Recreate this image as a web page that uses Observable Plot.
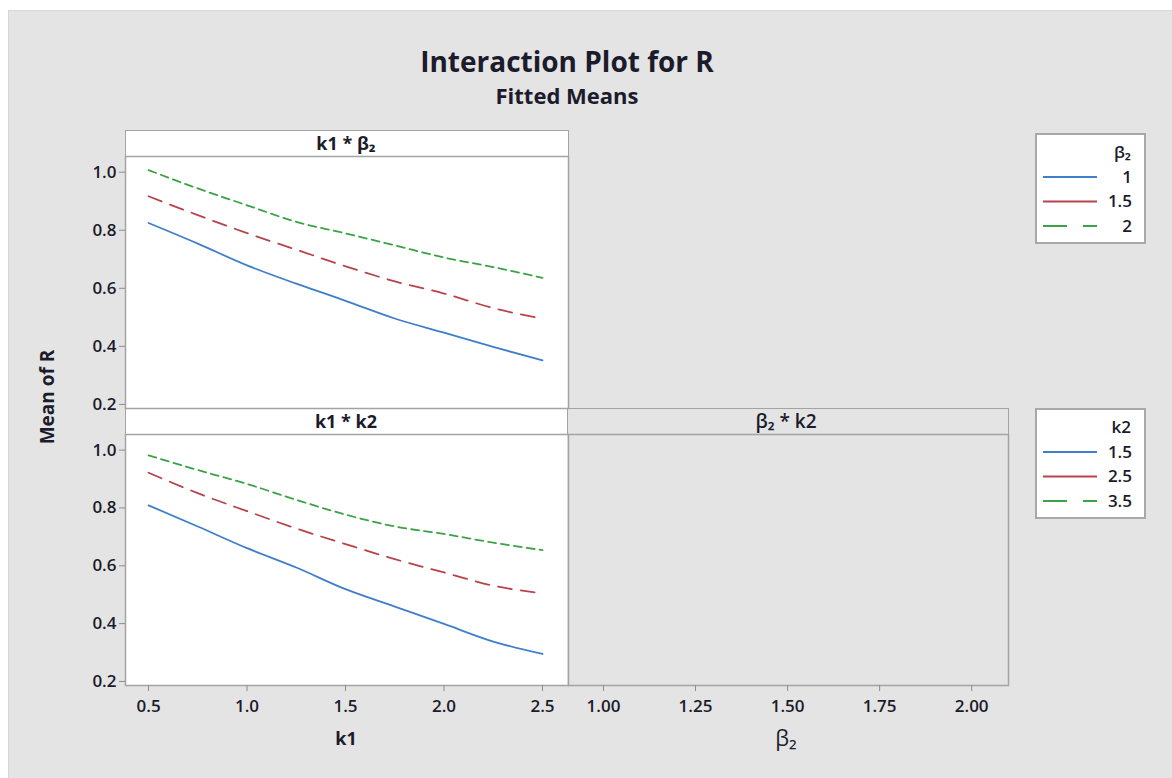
<!DOCTYPE html>
<html>
<head>
<meta charset="utf-8">
<script src="https://cdn.jsdelivr.net/npm/d3@7"></script>
<script src="https://cdn.jsdelivr.net/npm/@observablehq/plot@0.6"></script>
<style>
  html, body { margin: 0; padding: 0; background: #ffffff; }
  #root { position: relative; width: 1172px; height: 778px; overflow: hidden; font-family: "Open Sans", "Noto Sans", sans-serif; color: #1b1b2b; }
  #bg { position: absolute; left: 8px; top: 10px; width: 1164px; height: 768px; background: #e4e4e4; border-left: 1px solid #d6d6d6; border-top: 1px solid #d6d6d6; box-sizing: border-box; }
  .abs { position: absolute; }
  .txt { position: absolute; white-space: nowrap; text-align: center; }
  .hdr { position: absolute; box-sizing: border-box; border: 1.5px solid #a3a3a3; }
  .panel { position: absolute; }
  .panel svg text { font-size: 17px !important; font-weight: 600 !important; font-family: "Open Sans", "Noto Sans", sans-serif !important; fill: #1b1b2b; }
</style>
</head>
<body>
<div id="root">
  <div id="bg"></div>
</div>
<script>
// ---------------- data ----------------
const k1Levels = [0.5, 0.75, 1.0, 1.25, 1.5, 1.75, 2.0, 2.25, 2.5];
// k1 * beta2 interaction (Mean of R)
const beta2Levels = ["1", "1.5", "2"];
const rK1Beta2_1  = [0.825, 0.754, 0.679, 0.616, 0.557, 0.496, 0.447, 0.398, 0.352];
const rK1Beta2_15 = [0.917, 0.852, 0.790, 0.733, 0.676, 0.624, 0.582, 0.532, 0.495];
const rK1Beta2_2  = [1.007, 0.944, 0.886, 0.829, 0.789, 0.748, 0.706, 0.673, 0.636];
// k1 * k2 interaction (Mean of R)
const k2Levels = ["1.5", "2.5", "3.5"];
const rK1K2_15 = [0.809, 0.736, 0.661, 0.594, 0.519, 0.459, 0.399, 0.338, 0.295];
const rK1K2_25 = [0.922, 0.851, 0.789, 0.729, 0.675, 0.623, 0.577, 0.531, 0.505];
const rK1K2_35 = [0.982, 0.931, 0.883, 0.828, 0.777, 0.736, 0.710, 0.680, 0.654];
// tick labels
const yTicks = [0.2, 0.4, 0.6, 0.8, 1.0];
const k1Ticks = [0.5, 1.0, 1.5, 2.0, 2.5];
const beta2Ticks = [1.00, 1.25, 1.50, 1.75, 2.00];

// ---------------- styles ----------------
const colors = ["#3f7fca", "#b8434a", "#3ba246"];
const dashes = [null, "14,9", "8,5"];
const legendDashes = [null, null, "24,16"];
const yDomain = [0.186, 1.054];

const root = document.getElementById("root");

function addText(text, cx, cy, size, weight, opts = {}) {
  const d = document.createElement("div");
  d.className = "txt";
  d.textContent = text;
  d.style.fontSize = size + "px";
  d.style.fontWeight = weight;
  d.style.lineHeight = size + "px";
  if (opts.family) d.style.fontFamily = opts.family;
  d.style.left = cx + "px";
  d.style.top = cy + "px";
  d.style.transform = "translate(-50%,-50%)" + (opts.rotate ? ` rotate(${opts.rotate}deg)` : "");
  if (opts.color) d.style.color = opts.color;
  root.appendChild(d);
  return d;
}
function addBox(cls, x, y, w, h, bg) {
  const d = document.createElement("div");
  d.className = cls;
  d.style.left = x + "px"; d.style.top = y + "px";
  d.style.width = w + "px"; d.style.height = h + "px";
  d.style.background = bg;
  root.appendChild(d);
  return d;
}

function makeSeries(values) {
  return k1Levels.map((k, i) => ({k1: k, r: values[i]}));
}

function panel({x0, y0, w, h, xDomain, xTicks, xFmt, showX, showY, series, bg}) {
  const mL = showY ? 60 : 2, mR = 2, mT = 2, mB = showX ? 44 : 2;
  const marks = [Plot.frame({fill: bg, stroke: null})];
  series.forEach((s, i) => {
    marks.push(Plot.line(makeSeries(s), {x: "k1", y: "r", stroke: colors[i], strokeWidth: 1.8, strokeDasharray: dashes[i], curve: "monotone-x"}));
  });
  marks.push(Plot.frame({stroke: "#a3a3a3", strokeWidth: 1.5}));
  if (showY) marks.push(Plot.axisY(yTicks, {tickFormat: d3.format(".1f"), tickSize: 6, tickPadding: 3, stroke: "#8c8c8c", color: "#1b1b2b", label: null}));
  if (showX) marks.push(Plot.axisX(xTicks, {tickFormat: d3.format(xFmt), tickSize: 6, tickPadding: 8, stroke: "#8c8c8c", color: "#1b1b2b", label: null}));
  const p = Plot.plot({
    width: mL + w + mR,
    height: mT + h + mB,
    marginLeft: mL, marginRight: mR, marginTop: mT, marginBottom: mB,
    x: {domain: xDomain, axis: null},
    y: {domain: yDomain, axis: null},
    style: {background: "transparent", fontFamily: "'Open Sans', 'Noto Sans', sans-serif", fontSize: "17px", fontWeight: 600, color: "#1b1b2b", overflow: "visible"},
    marks
  });
  const wrap = document.createElement("div");
  wrap.className = "panel";
  wrap.style.left = (x0 - mL) + "px";
  wrap.style.top = (y0 - mT) + "px";
  wrap.appendChild(p);
  root.appendChild(wrap);
}

// ---------------- title ----------------
addText("Interaction Plot for R", 567, 61, 28, 700);
addText("Fitted Means", 567, 95, 22, 700);

// ---------------- headers ----------------
addBox("hdr", 125, 130, 444, 28, "#ffffff");
addText("k1 * β₂", 346, 143, 18, 700);
addBox("hdr", 125, 408, 444, 28, "#ffffff");
addText("k1 * k2", 346, 421, 18, 700);
addBox("hdr", 567, 408, 442, 28, "#e4e4e4");
addText("β₂ * k2", 786, 421, 19, 600);

// ---------------- panels ----------------
panel({x0: 125, y0: 156, w: 443, h: 252, xDomain: [0.383, 2.632], xTicks: k1Ticks, xFmt: ".1f", showX: false, showY: true,
       series: [rK1Beta2_1, rK1Beta2_15, rK1Beta2_2], bg: "#ffffff"});
panel({x0: 125, y0: 434, w: 443, h: 251, xDomain: [0.383, 2.632], xTicks: k1Ticks, xFmt: ".1f", showX: true, showY: true,
       series: [rK1K2_15, rK1K2_25, rK1K2_35], bg: "#ffffff"});
panel({x0: 568, y0: 434, w: 440, h: 251, xDomain: [0.905, 2.1], xTicks: beta2Ticks, xFmt: ".2f", showX: true, showY: false,
       series: [], bg: "#e4e4e4"});

// ---------------- axis titles ----------------
addText("Mean of R", 47, 397, 19, 700, {rotate: -90});
addText("k1", 346, 738, 18, 700);
addText("β₂", 786, 737, 22, 400);

// ---------------- legends ----------------
function legend(x, y, title, labels) {
  const w = 111, h = 111;
  const svg = d3.select(root).append("svg")
    .attr("class", "abs").attr("width", w).attr("height", h)
    .style("left", x + "px").style("top", y + "px");
  svg.append("rect").attr("x", 1).attr("y", 1).attr("width", w - 2).attr("height", h - 2)
    .attr("fill", "#fff").attr("stroke", "#a8a8a8").attr("stroke-width", 2);
  const g = svg.append("g").attr("font-family", "'Open Sans', 'Noto Sans', sans-serif").attr("font-weight", 600).attr("font-size", 17).attr("fill", "#1b1b2b");
  g.append("text").attr("x", 96).attr("y", 18).attr("text-anchor", "end").attr("dominant-baseline", "central").text(title);
  labels.forEach((lab, i) => {
    const yy = 44 + i * 24.5;
    const line = g.append("line").attr("x1", 8).attr("x2", 62).attr("y1", yy).attr("y2", yy)
      .attr("stroke", colors[i]).attr("stroke-width", 2);
    if (legendDashes[i]) line.attr("stroke-dasharray", legendDashes[i]);
    g.append("text").attr("x", 97).attr("y", yy - 1).attr("text-anchor", "end").attr("dominant-baseline", "central").text(lab);
  });
}
legend(1035, 133, "β₂", beta2Levels);
legend(1035, 408, "k2", k2Levels);
</script>
</body>
</html>
